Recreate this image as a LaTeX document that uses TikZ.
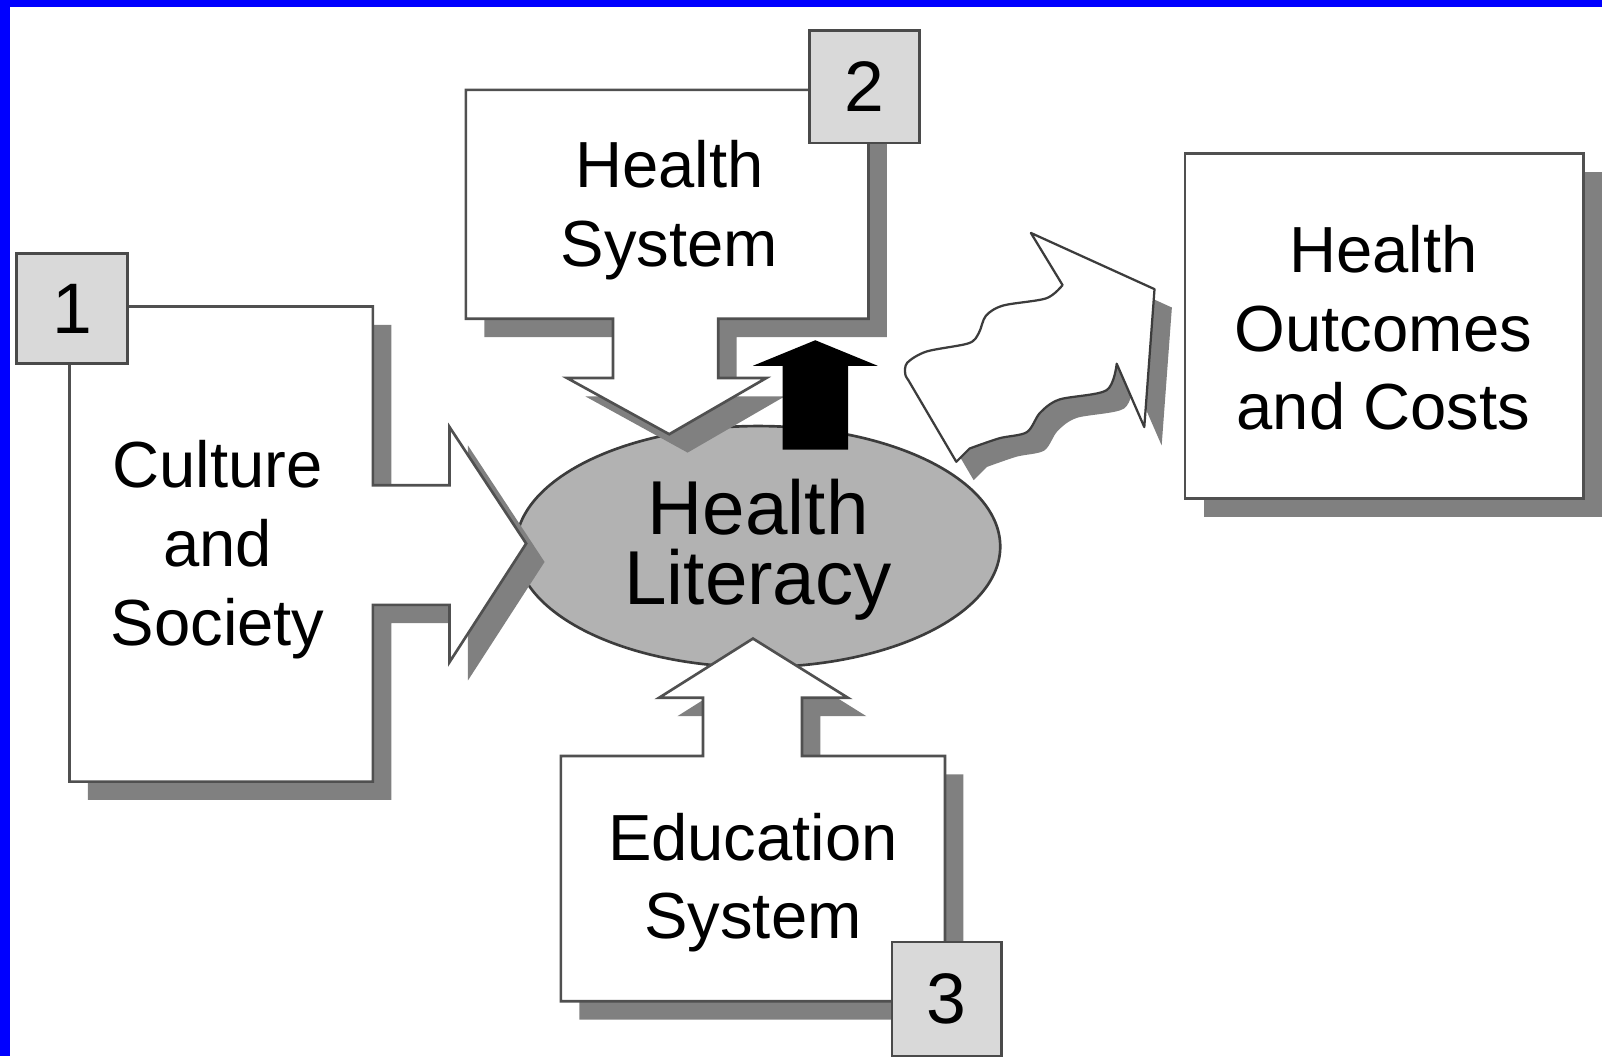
\documentclass[tikz,border=0pt]{standalone}
\usepackage{fontspec}
\setmainfont{Liberation Sans}
\definecolor{linegray}{HTML}{505050}
\definecolor{shadowgray}{HTML}{808080}
\definecolor{numfill}{HTML}{D9D9D9}
\definecolor{numline}{HTML}{4A4A4A}
\definecolor{ellfill}{HTML}{B2B2B2}
\definecolor{ellline}{HTML}{3C3C3C}
\definecolor{frameblue}{HTML}{0000FF}
\newcommand{\shpA}{(68,300) -- (365,300) -- (365,475) -- (440,475) -- (440,418) -- (515,532) -- (440,648) -- (440,592) -- (365,592) -- (365,765) -- (68,765) -- cycle}
\newcommand{\shpB}{(456,88) -- (850,88) -- (850,312) -- (703,312) -- (703,370) -- (750,370) -- (655,425) -- (555,370) -- (600,370) -- (600,312) -- (456,312) -- cycle}
\newcommand{\shpC}{(549,740) -- (688,740) -- (688,683) -- (645,683) -- (737,625) -- (830,683) -- (785,683) -- (785,740) -- (925,740) -- (925,980) -- (549,980) -- cycle}
\newcommand{\shpW}{(936,452) -- plot[smooth, tension=0.5] coordinates {(949,439) (978,429) (1005,423) (1018,404) (1037,391) (1083,382) (1093,356)} -- (1120,418) -- (1130,283) -- (1009,228) -- (1040,279) -- plot[smooth, tension=0.5] coordinates {(1040,279) (1024,292) (982,299) (965,309) (958,326) (948,336) (907,344) (888,355) (886,366) (889,372)} -- cycle}
\begin{document}
\begin{tikzpicture}[x=0.5pt,y=-0.5pt,
  outl/.style={draw=linegray, fill=white, line width=1.3pt, line join=miter},
  shad/.style={fill=shadowgray},
  numbox/.style={draw=numline, fill=numfill, line width=1.3pt},
  lbl/.style={font=\fontsize{31.9}{38.5}\selectfont, align=center, text=black, inner sep=0pt},
  biglbl/.style={font=\fontsize{37.4}{34.5}\selectfont, align=center, text=black, inner sep=0pt},
  numlbl/.style={font=\fontsize{35}{40}\selectfont, text=black, inner sep=0pt}]
\fill[white] (0,0) rectangle (1568,1034);
\useasboundingbox (0,0) rectangle (1568,1034);
% frame
\fill[frameblue] (0,0) rectangle (1568,7);
\fill[frameblue] (0,0) rectangle (10,1034);
% shadow of education system shape (under ellipse)
\fill[shad, shift={(18,18)}] \shpC;
% ellipse
\draw[fill=ellfill, draw=ellline, line width=1.3pt] (742,535) ellipse [x radius=237, y radius=118];
% shadows
\fill[shad, shift={(18,18)}] \shpA;
\fill[shad, shift={(18,18)}] \shpB;
\fill[shad, shift={(17,18)}] \shpW;
% shapes
\draw[outl] \shpA;
\draw[outl] \shpB;
\draw[outl] \shpC;
\draw[draw=ellline, fill=white, line width=1.1pt, line join=round] \shpW;
% black arrow
\fill[black] (766,440) -- (766,358) -- (737,358) -- (798,333) -- (859,358) -- (830,358) -- (830,440) -- cycle;
% outcomes box
\fill[shad] (1178,168) rectangle (1568,506);
\draw[outl] (1160,150) rectangle (1550,488);
% number boxes
\draw[numbox] (16,248) rectangle (125,356);
\draw[numbox] (792,30) rectangle (900,140);
\draw[numbox] (873,922) rectangle (980,1034);
% labels
\node[numlbl] (n1) at (70.5,302) {1};
\node[numlbl] (n2) at (846,85) {2};
\node[numlbl] (n3) at (926.5,978) {3};
\node[lbl] (culture) at (213,538) {Culture\\and\\Society};
\node[lbl] (hsys) at (655,206) {Health\\System};
\node[lbl] (edu) at (737,864) {Education\\System};
\node[lbl] (outc) at (1354,321) {Health\\Outcomes\\and Costs};
\node[biglbl] (hl) at (742,538) {Health\\Literacy};
\end{tikzpicture}
\end{document}
